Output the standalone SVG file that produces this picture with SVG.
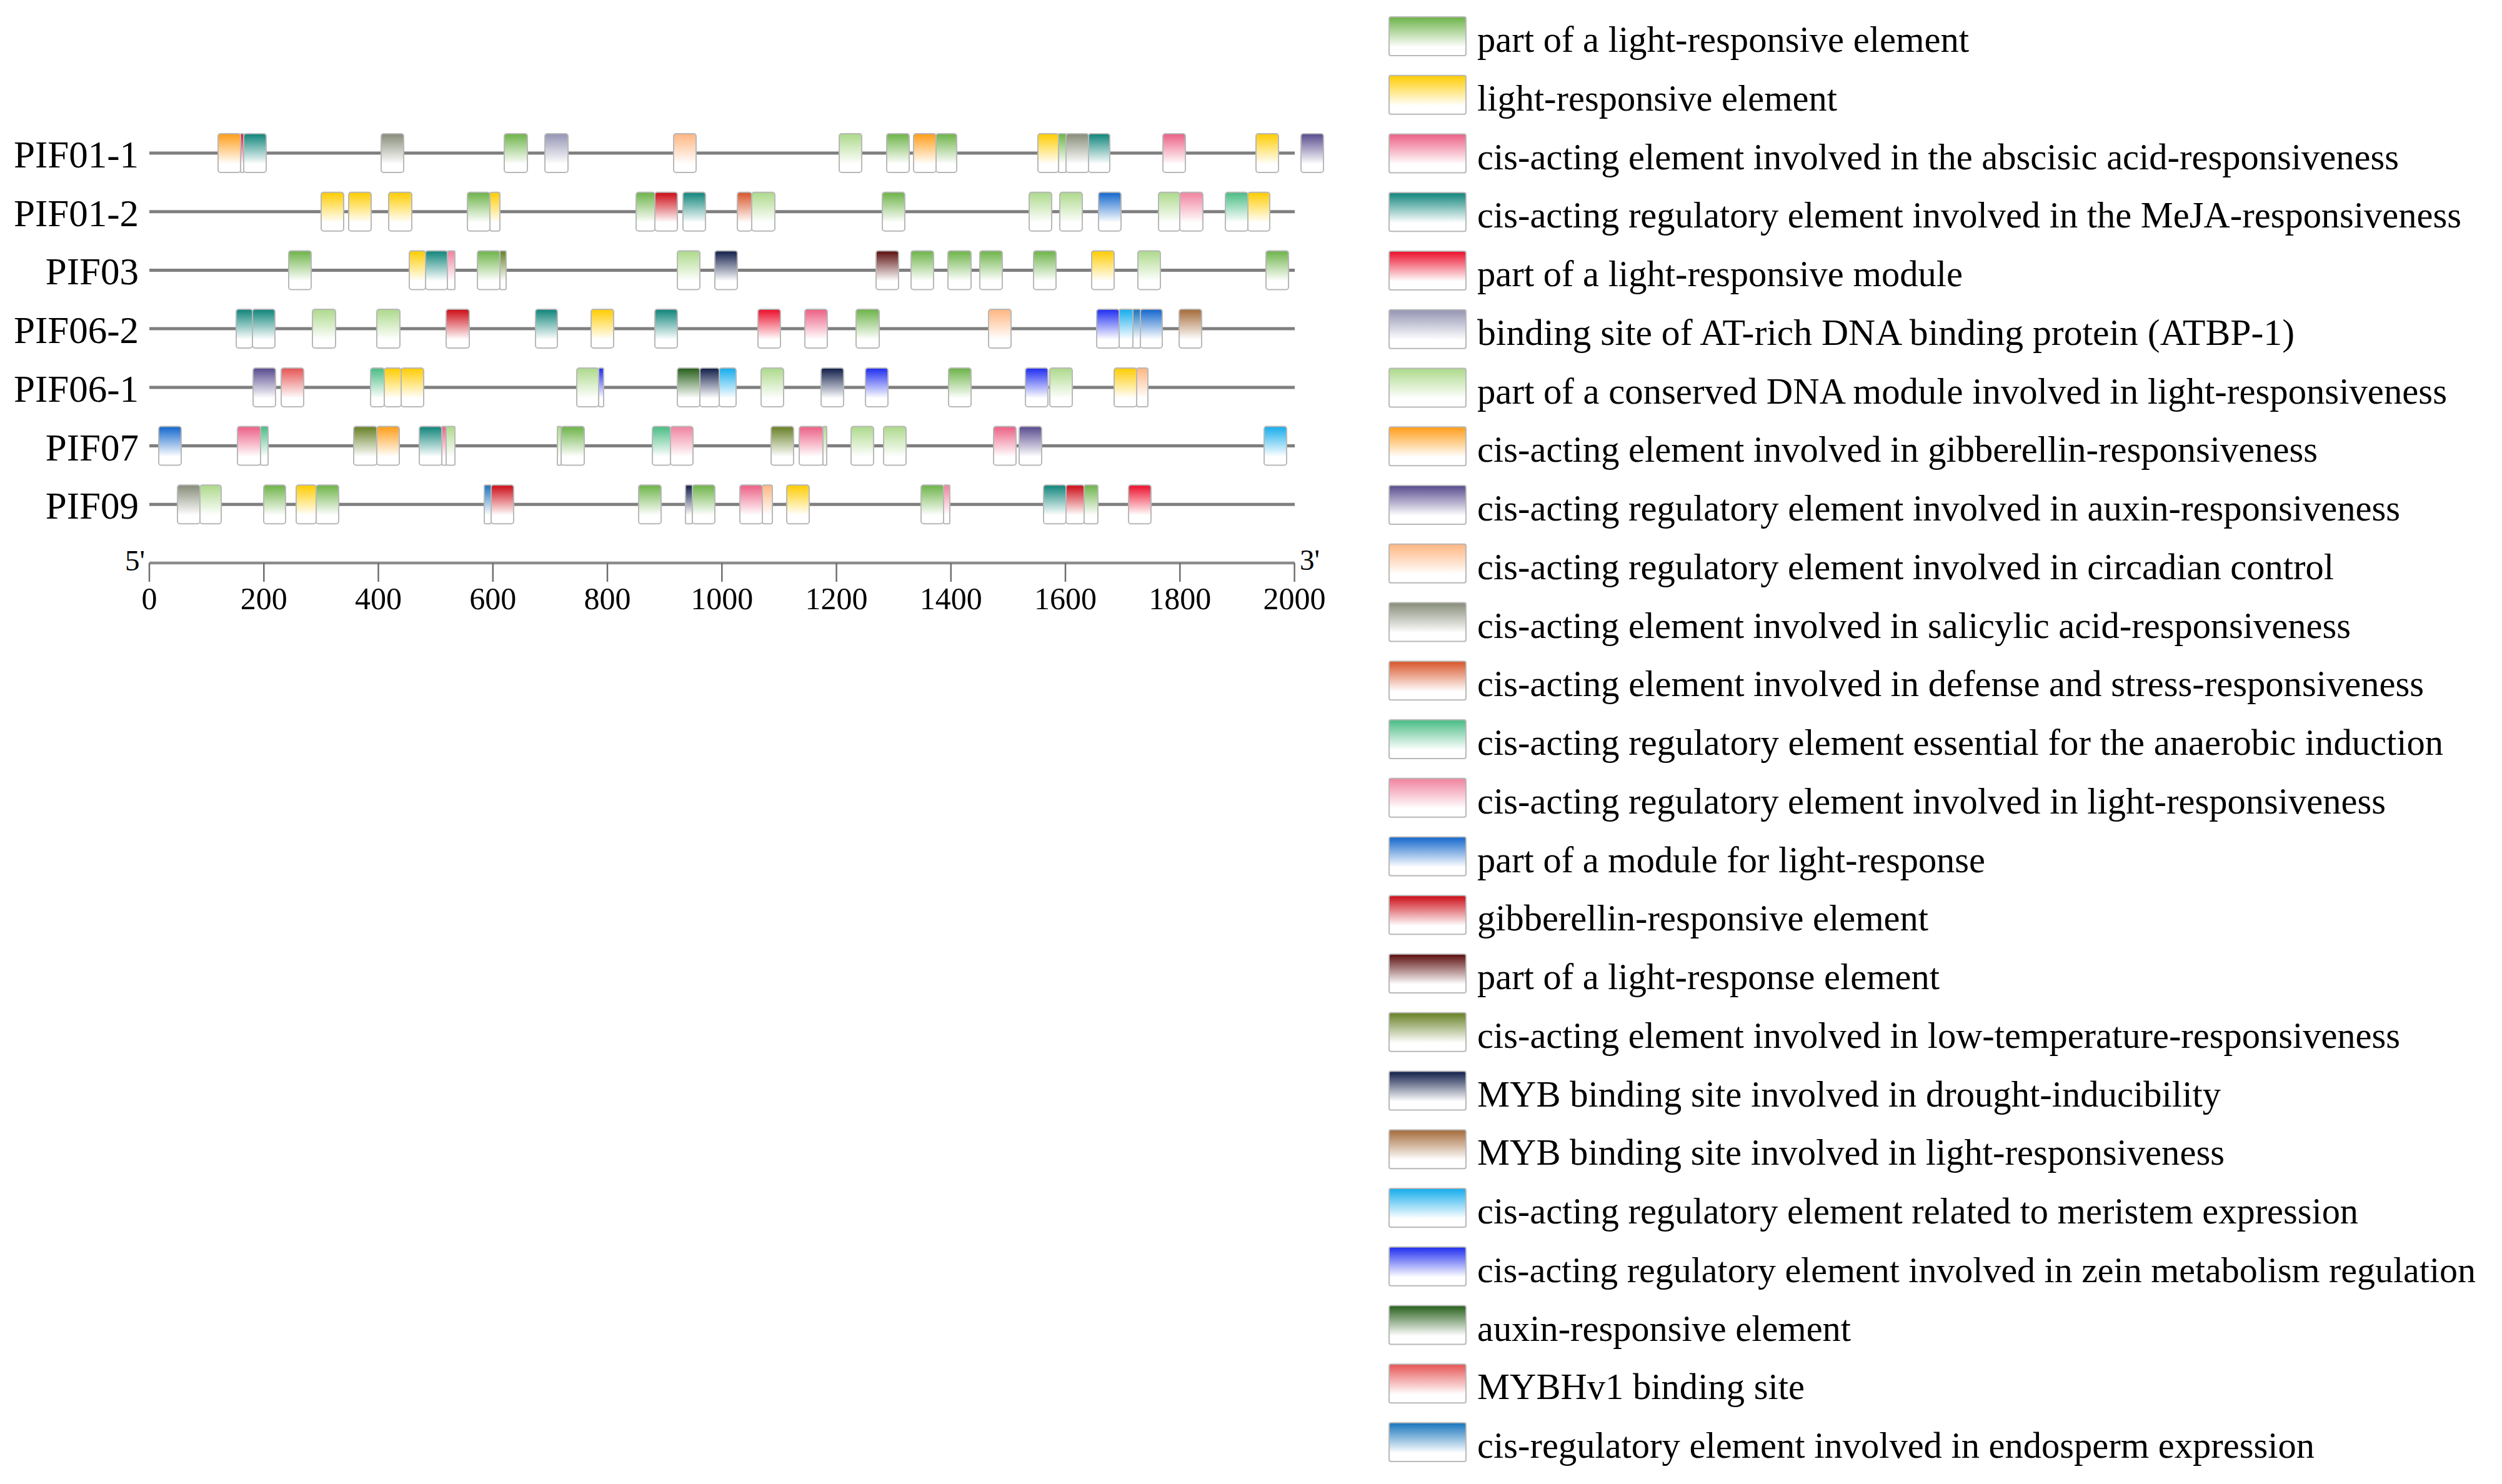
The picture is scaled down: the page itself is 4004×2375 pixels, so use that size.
<svg xmlns="http://www.w3.org/2000/svg" width="4004" height="2375" viewBox="0 0 4004 2375">
<style>
.lbl{font-family:"Liberation Serif","Times New Roman",serif;font-size:61px;fill:#000;text-anchor:end}
.tk{font-family:"Liberation Serif","Times New Roman",serif;font-size:50px;fill:#000;text-anchor:middle}
.end{font-family:"Liberation Serif","Times New Roman",serif;font-size:47px;fill:#000}
.lg{font-family:"Liberation Serif","Times New Roman",serif;font-size:60px;fill:#000}
.gene{stroke:#7f7f7f;stroke-width:5}
.b rect{stroke:#b8b8b8;stroke-width:2}
.tick{stroke:#6e6e6e;stroke-width:2.5}
</style>
<defs>
<linearGradient id="g1" x1="0" y1="0" x2="0" y2="1"><stop offset="0" stop-color="#6cb347"/><stop offset="0.78" stop-color="#fff"/></linearGradient>
<linearGradient id="g2" x1="0" y1="0" x2="0" y2="1"><stop offset="0" stop-color="#ffcc00"/><stop offset="0.78" stop-color="#fff"/></linearGradient>
<linearGradient id="g3" x1="0" y1="0" x2="0" y2="1"><stop offset="0" stop-color="#ec5f84"/><stop offset="0.78" stop-color="#fff"/></linearGradient>
<linearGradient id="g4" x1="0" y1="0" x2="0" y2="1"><stop offset="0" stop-color="#0e847a"/><stop offset="0.78" stop-color="#fff"/></linearGradient>
<linearGradient id="g5" x1="0" y1="0" x2="0" y2="1"><stop offset="0" stop-color="#ec0d2a"/><stop offset="0.78" stop-color="#fff"/></linearGradient>
<linearGradient id="g6" x1="0" y1="0" x2="0" y2="1"><stop offset="0" stop-color="#9494b4"/><stop offset="0.78" stop-color="#fff"/></linearGradient>
<linearGradient id="g7" x1="0" y1="0" x2="0" y2="1"><stop offset="0" stop-color="#acd98a"/><stop offset="0.78" stop-color="#fff"/></linearGradient>
<linearGradient id="g8" x1="0" y1="0" x2="0" y2="1"><stop offset="0" stop-color="#ff9d18"/><stop offset="0.78" stop-color="#fff"/></linearGradient>
<linearGradient id="g9" x1="0" y1="0" x2="0" y2="1"><stop offset="0" stop-color="#584a8e"/><stop offset="0.78" stop-color="#fff"/></linearGradient>
<linearGradient id="g10" x1="0" y1="0" x2="0" y2="1"><stop offset="0" stop-color="#ffb580"/><stop offset="0.78" stop-color="#fff"/></linearGradient>
<linearGradient id="g11" x1="0" y1="0" x2="0" y2="1"><stop offset="0" stop-color="#868c78"/><stop offset="0.78" stop-color="#fff"/></linearGradient>
<linearGradient id="g12" x1="0" y1="0" x2="0" y2="1"><stop offset="0" stop-color="#d85428"/><stop offset="0.78" stop-color="#fff"/></linearGradient>
<linearGradient id="g13" x1="0" y1="0" x2="0" y2="1"><stop offset="0" stop-color="#48bc84"/><stop offset="0.78" stop-color="#fff"/></linearGradient>
<linearGradient id="g14" x1="0" y1="0" x2="0" y2="1"><stop offset="0" stop-color="#f0829f"/><stop offset="0.78" stop-color="#fff"/></linearGradient>
<linearGradient id="g15" x1="0" y1="0" x2="0" y2="1"><stop offset="0" stop-color="#1266cc"/><stop offset="0.78" stop-color="#fff"/></linearGradient>
<linearGradient id="g16" x1="0" y1="0" x2="0" y2="1"><stop offset="0" stop-color="#cc0a14"/><stop offset="0.78" stop-color="#fff"/></linearGradient>
<linearGradient id="g17" x1="0" y1="0" x2="0" y2="1"><stop offset="0" stop-color="#5a0c0c"/><stop offset="0.78" stop-color="#fff"/></linearGradient>
<linearGradient id="g18" x1="0" y1="0" x2="0" y2="1"><stop offset="0" stop-color="#667f24"/><stop offset="0.78" stop-color="#fff"/></linearGradient>
<linearGradient id="g19" x1="0" y1="0" x2="0" y2="1"><stop offset="0" stop-color="#0e1c48"/><stop offset="0.78" stop-color="#fff"/></linearGradient>
<linearGradient id="g20" x1="0" y1="0" x2="0" y2="1"><stop offset="0" stop-color="#a46a38"/><stop offset="0.78" stop-color="#fff"/></linearGradient>
<linearGradient id="g21" x1="0" y1="0" x2="0" y2="1"><stop offset="0" stop-color="#14acec"/><stop offset="0.78" stop-color="#fff"/></linearGradient>
<linearGradient id="g22" x1="0" y1="0" x2="0" y2="1"><stop offset="0" stop-color="#1e2cf0"/><stop offset="0.78" stop-color="#fff"/></linearGradient>
<linearGradient id="g23" x1="0" y1="0" x2="0" y2="1"><stop offset="0" stop-color="#255e18"/><stop offset="0.78" stop-color="#fff"/></linearGradient>
<linearGradient id="g24" x1="0" y1="0" x2="0" y2="1"><stop offset="0" stop-color="#e65454"/><stop offset="0.78" stop-color="#fff"/></linearGradient>
<linearGradient id="g25" x1="0" y1="0" x2="0" y2="1"><stop offset="0" stop-color="#1774bc"/><stop offset="0.78" stop-color="#fff"/></linearGradient>
</defs>
<rect width="4004" height="2375" fill="#fff"/>

<g id="PIF01-1" transform="translate(0,245)">
<text class="lbl" x="222" y="23">PIF01-1</text>
<line class="gene" x1="239" y1="0" x2="2072" y2="0"/>
<g class="b">
<rect x="349" y="-31" width="36" height="62" rx="4" fill="url(#g8)"/>
<rect x="385" y="-31" width="5" height="62" rx="1" fill="url(#g5)"/>
<rect x="390" y="-31" width="36" height="62" rx="4" fill="url(#g4)"/>
<rect x="610" y="-31" width="36" height="62" rx="4" fill="url(#g11)"/>
<rect x="807" y="-31" width="37" height="62" rx="4" fill="url(#g1)"/>
<rect x="872" y="-31" width="37" height="62" rx="4" fill="url(#g6)"/>
<rect x="1078" y="-31" width="36" height="62" rx="4" fill="url(#g10)"/>
<rect x="1343" y="-31" width="36" height="62" rx="4" fill="url(#g7)"/>
<rect x="1419" y="-31" width="36" height="62" rx="4" fill="url(#g1)"/>
<rect x="1462" y="-31" width="36" height="62" rx="4" fill="url(#g8)"/>
<rect x="1498" y="-31" width="33" height="62" rx="4" fill="url(#g1)"/>
<rect x="1661" y="-31" width="33" height="62" rx="4" fill="url(#g2)"/>
<rect x="1694" y="-31" width="12" height="62" rx="2" fill="url(#g1)"/>
<rect x="1706" y="-31" width="36" height="62" rx="4" fill="url(#g11)"/>
<rect x="1742" y="-31" width="34" height="62" rx="4" fill="url(#g4)"/>
<rect x="1861" y="-31" width="36" height="62" rx="4" fill="url(#g3)"/>
<rect x="2010" y="-31" width="36" height="62" rx="4" fill="url(#g2)"/>
<rect x="2082" y="-31" width="36" height="62" rx="4" fill="url(#g9)"/>
</g>
</g>

<g id="PIF01-2" transform="translate(0,338.7)">
<text class="lbl" x="222" y="23">PIF01-2</text>
<line class="gene" x1="239" y1="0" x2="2072" y2="0"/>
<g class="b">
<rect x="514" y="-31" width="36" height="62" rx="4" fill="url(#g2)"/>
<rect x="558" y="-31" width="36" height="62" rx="4" fill="url(#g2)"/>
<rect x="622" y="-31" width="37" height="62" rx="4" fill="url(#g2)"/>
<rect x="748" y="-31" width="36" height="62" rx="4" fill="url(#g1)"/>
<rect x="784" y="-31" width="16" height="62" rx="3" fill="url(#g2)"/>
<rect x="1018" y="-31" width="30" height="62" rx="4" fill="url(#g1)"/>
<rect x="1048" y="-31" width="36" height="62" rx="4" fill="url(#g16)"/>
<rect x="1093" y="-31" width="36" height="62" rx="4" fill="url(#g4)"/>
<rect x="1180" y="-31" width="23" height="62" rx="4" fill="url(#g12)"/>
<rect x="1203" y="-31" width="37" height="62" rx="4" fill="url(#g7)"/>
<rect x="1412" y="-31" width="36" height="62" rx="4" fill="url(#g1)"/>
<rect x="1647" y="-31" width="36" height="62" rx="4" fill="url(#g7)"/>
<rect x="1696" y="-31" width="36" height="62" rx="4" fill="url(#g7)"/>
<rect x="1758" y="-31" width="36" height="62" rx="4" fill="url(#g15)"/>
<rect x="1854" y="-31" width="34" height="62" rx="4" fill="url(#g7)"/>
<rect x="1888" y="-31" width="37" height="62" rx="4" fill="url(#g14)"/>
<rect x="1961" y="-31" width="36" height="62" rx="4" fill="url(#g13)"/>
<rect x="1997" y="-31" width="35" height="62" rx="4" fill="url(#g2)"/>
</g>
</g>

<g id="PIF03" transform="translate(0,432.4)">
<text class="lbl" x="222" y="23">PIF03</text>
<line class="gene" x1="239" y1="0" x2="2072" y2="0"/>
<g class="b">
<rect x="462" y="-31" width="36" height="62" rx="4" fill="url(#g1)"/>
<rect x="655" y="-31" width="26" height="62" rx="4" fill="url(#g2)"/>
<rect x="681" y="-31" width="35" height="62" rx="4" fill="url(#g4)"/>
<rect x="716" y="-31" width="12" height="62" rx="2" fill="url(#g14)"/>
<rect x="764" y="-31" width="36" height="62" rx="4" fill="url(#g1)"/>
<rect x="800" y="-31" width="10" height="62" rx="2" fill="url(#g18)"/>
<rect x="1084" y="-31" width="36" height="62" rx="4" fill="url(#g7)"/>
<rect x="1144" y="-31" width="36" height="62" rx="4" fill="url(#g19)"/>
<rect x="1402" y="-31" width="36" height="62" rx="4" fill="url(#g17)"/>
<rect x="1458" y="-31" width="36" height="62" rx="4" fill="url(#g1)"/>
<rect x="1517" y="-31" width="37" height="62" rx="4" fill="url(#g1)"/>
<rect x="1568" y="-31" width="36" height="62" rx="4" fill="url(#g1)"/>
<rect x="1654" y="-31" width="36" height="62" rx="4" fill="url(#g1)"/>
<rect x="1747" y="-31" width="36" height="62" rx="4" fill="url(#g2)"/>
<rect x="1821" y="-31" width="36" height="62" rx="4" fill="url(#g7)"/>
<rect x="2026" y="-31" width="36" height="62" rx="4" fill="url(#g1)"/>
</g>
</g>

<g id="PIF06-2" transform="translate(0,526)">
<text class="lbl" x="222" y="23">PIF06-2</text>
<line class="gene" x1="239" y1="0" x2="2072" y2="0"/>
<g class="b">
<rect x="378" y="-31" width="26" height="62" rx="4" fill="url(#g4)"/>
<rect x="404" y="-31" width="36" height="62" rx="4" fill="url(#g4)"/>
<rect x="500" y="-31" width="37" height="62" rx="4" fill="url(#g7)"/>
<rect x="603" y="-31" width="37" height="62" rx="4" fill="url(#g7)"/>
<rect x="714" y="-31" width="37" height="62" rx="4" fill="url(#g16)"/>
<rect x="857" y="-31" width="35" height="62" rx="4" fill="url(#g4)"/>
<rect x="946" y="-31" width="36" height="62" rx="4" fill="url(#g2)"/>
<rect x="1048" y="-31" width="36" height="62" rx="4" fill="url(#g4)"/>
<rect x="1213" y="-31" width="36" height="62" rx="4" fill="url(#g5)"/>
<rect x="1288" y="-31" width="36" height="62" rx="4" fill="url(#g3)"/>
<rect x="1370" y="-31" width="37" height="62" rx="4" fill="url(#g1)"/>
<rect x="1582" y="-31" width="36" height="62" rx="4" fill="url(#g10)"/>
<rect x="1755" y="-31" width="36" height="62" rx="4" fill="url(#g22)"/>
<rect x="1791" y="-31" width="22" height="62" rx="3" fill="url(#g21)"/>
<rect x="1813" y="-31" width="12" height="62" rx="2" fill="url(#g25)"/>
<rect x="1825" y="-31" width="35" height="62" rx="4" fill="url(#g15)"/>
<rect x="1887" y="-31" width="36" height="62" rx="4" fill="url(#g20)"/>
</g>
</g>

<g id="PIF06-1" transform="translate(0,620)">
<text class="lbl" x="222" y="23">PIF06-1</text>
<line class="gene" x1="239" y1="0" x2="2072" y2="0"/>
<g class="b">
<rect x="405" y="-31" width="36" height="62" rx="4" fill="url(#g9)"/>
<rect x="450" y="-31" width="36" height="62" rx="4" fill="url(#g24)"/>
<rect x="593" y="-31" width="22" height="62" rx="4" fill="url(#g13)"/>
<rect x="615" y="-31" width="27" height="62" rx="4" fill="url(#g2)"/>
<rect x="642" y="-31" width="36" height="62" rx="4" fill="url(#g2)"/>
<rect x="923" y="-31" width="35" height="62" rx="4" fill="url(#g7)"/>
<rect x="958" y="-31" width="8" height="62" rx="2" fill="url(#g22)"/>
<rect x="1084" y="-31" width="36" height="62" rx="4" fill="url(#g23)"/>
<rect x="1120" y="-31" width="31" height="62" rx="4" fill="url(#g19)"/>
<rect x="1151" y="-31" width="27" height="62" rx="4" fill="url(#g21)"/>
<rect x="1218" y="-31" width="36" height="62" rx="4" fill="url(#g7)"/>
<rect x="1314" y="-31" width="36" height="62" rx="4" fill="url(#g19)"/>
<rect x="1385" y="-31" width="36" height="62" rx="4" fill="url(#g22)"/>
<rect x="1518" y="-31" width="36" height="62" rx="4" fill="url(#g1)"/>
<rect x="1641" y="-31" width="36" height="62" rx="4" fill="url(#g22)"/>
<rect x="1680" y="-31" width="36" height="62" rx="4" fill="url(#g7)"/>
<rect x="1783" y="-31" width="36" height="62" rx="4" fill="url(#g2)"/>
<rect x="1819" y="-31" width="18" height="62" rx="3" fill="url(#g10)"/>
</g>
</g>

<g id="PIF07" transform="translate(0,713.5)">
<text class="lbl" x="222" y="23">PIF07</text>
<line class="gene" x1="239" y1="0" x2="2072" y2="0"/>
<g class="b">
<rect x="254" y="-31" width="36" height="62" rx="4" fill="url(#g15)"/>
<rect x="380" y="-31" width="37" height="62" rx="4" fill="url(#g3)"/>
<rect x="417" y="-31" width="12" height="62" rx="2" fill="url(#g13)"/>
<rect x="566" y="-31" width="37" height="62" rx="4" fill="url(#g18)"/>
<rect x="603" y="-31" width="36" height="62" rx="4" fill="url(#g8)"/>
<rect x="671" y="-31" width="36" height="62" rx="4" fill="url(#g4)"/>
<rect x="707" y="-31" width="7" height="62" rx="1" fill="url(#g3)"/>
<rect x="714" y="-31" width="14" height="62" rx="2" fill="url(#g7)"/>
<rect x="892" y="-31" width="6" height="62" rx="1" fill="url(#g7)"/>
<rect x="898" y="-31" width="37" height="62" rx="4" fill="url(#g1)"/>
<rect x="1044" y="-31" width="29" height="62" rx="4" fill="url(#g13)"/>
<rect x="1073" y="-31" width="36" height="62" rx="4" fill="url(#g14)"/>
<rect x="1234" y="-31" width="36" height="62" rx="4" fill="url(#g18)"/>
<rect x="1279" y="-31" width="38" height="62" rx="4" fill="url(#g3)"/>
<rect x="1317" y="-31" width="6" height="62" rx="1" fill="url(#g7)"/>
<rect x="1362" y="-31" width="36" height="62" rx="4" fill="url(#g7)"/>
<rect x="1414" y="-31" width="36" height="62" rx="4" fill="url(#g7)"/>
<rect x="1590" y="-31" width="36" height="62" rx="4" fill="url(#g3)"/>
<rect x="1631" y="-31" width="36" height="62" rx="4" fill="url(#g9)"/>
<rect x="2023" y="-31" width="36" height="62" rx="4" fill="url(#g21)"/>
</g>
</g>

<g id="PIF09" transform="translate(0,807.2)">
<text class="lbl" x="222" y="23">PIF09</text>
<line class="gene" x1="239" y1="0" x2="2072" y2="0"/>
<g class="b">
<rect x="284" y="-31" width="36" height="62" rx="4" fill="url(#g11)"/>
<rect x="320" y="-31" width="34" height="62" rx="4" fill="url(#g7)"/>
<rect x="422" y="-31" width="35" height="62" rx="4" fill="url(#g1)"/>
<rect x="474" y="-31" width="32" height="62" rx="4" fill="url(#g2)"/>
<rect x="506" y="-31" width="36" height="62" rx="4" fill="url(#g1)"/>
<rect x="775" y="-31" width="11" height="62" rx="2" fill="url(#g25)"/>
<rect x="786" y="-31" width="36" height="62" rx="4" fill="url(#g16)"/>
<rect x="1022" y="-31" width="36" height="62" rx="4" fill="url(#g1)"/>
<rect x="1097" y="-31" width="11" height="62" rx="2" fill="url(#g19)"/>
<rect x="1108" y="-31" width="36" height="62" rx="4" fill="url(#g1)"/>
<rect x="1184" y="-31" width="36" height="62" rx="4" fill="url(#g3)"/>
<rect x="1220" y="-31" width="16" height="62" rx="3" fill="url(#g10)"/>
<rect x="1259" y="-31" width="36" height="62" rx="4" fill="url(#g2)"/>
<rect x="1474" y="-31" width="36" height="62" rx="4" fill="url(#g1)"/>
<rect x="1510" y="-31" width="10" height="62" rx="2" fill="url(#g14)"/>
<rect x="1670" y="-31" width="36" height="62" rx="4" fill="url(#g4)"/>
<rect x="1706" y="-31" width="29" height="62" rx="4" fill="url(#g16)"/>
<rect x="1735" y="-31" width="22" height="62" rx="3" fill="url(#g1)"/>
<rect x="1806" y="-31" width="36" height="62" rx="4" fill="url(#g5)"/>
</g>
</g>

<g id="axis">
<line x1="239" y1="901" x2="2072" y2="901" stroke="#8c8c8c" stroke-width="4.5"/>
<g class="tick">
<line x1="239" y1="901" x2="239" y2="931"/>
<line x1="422.3" y1="901" x2="422.3" y2="931"/>
<line x1="605.5" y1="901" x2="605.5" y2="931"/>
<line x1="788.8" y1="901" x2="788.8" y2="931"/>
<line x1="972" y1="901" x2="972" y2="931"/>
<line x1="1155.3" y1="901" x2="1155.3" y2="931"/>
<line x1="1338.6" y1="901" x2="1338.6" y2="931"/>
<line x1="1521.8" y1="901" x2="1521.8" y2="931"/>
<line x1="1705" y1="901" x2="1705" y2="931"/>
<line x1="1888.3" y1="901" x2="1888.3" y2="931"/>
<line x1="2071.6" y1="901" x2="2071.6" y2="931"/>
</g>
<text class="tk" x="239" y="975">0</text>
<text class="tk" x="422.3" y="975">200</text>
<text class="tk" x="605.5" y="975">400</text>
<text class="tk" x="788.8" y="975">600</text>
<text class="tk" x="972" y="975">800</text>
<text class="tk" x="1155.3" y="975">1000</text>
<text class="tk" x="1338.6" y="975">1200</text>
<text class="tk" x="1521.8" y="975">1400</text>
<text class="tk" x="1705" y="975">1600</text>
<text class="tk" x="1888.3" y="975">1800</text>
<text class="tk" x="2071.6" y="975">2000</text>
<text class="end" x="232" y="913" text-anchor="end">5'</text>
<text class="end" x="2080" y="912">3'</text>
</g>

<g id="legend">
<g class="b">
<rect x="2223" y="27" width="123" height="62" rx="3" fill="url(#g1)"/>
<rect x="2223" y="120.75" width="123" height="62" rx="3" fill="url(#g2)"/>
<rect x="2223" y="214.5" width="123" height="62" rx="3" fill="url(#g3)"/>
<rect x="2223" y="308.25" width="123" height="62" rx="3" fill="url(#g4)"/>
<rect x="2223" y="402" width="123" height="62" rx="3" fill="url(#g5)"/>
<rect x="2223" y="495.75" width="123" height="62" rx="3" fill="url(#g6)"/>
<rect x="2223" y="589.5" width="123" height="62" rx="3" fill="url(#g7)"/>
<rect x="2223" y="683.25" width="123" height="62" rx="3" fill="url(#g8)"/>
<rect x="2223" y="777" width="123" height="62" rx="3" fill="url(#g9)"/>
<rect x="2223" y="870.75" width="123" height="62" rx="3" fill="url(#g10)"/>
<rect x="2223" y="964.5" width="123" height="62" rx="3" fill="url(#g11)"/>
<rect x="2223" y="1058.25" width="123" height="62" rx="3" fill="url(#g12)"/>
<rect x="2223" y="1152" width="123" height="62" rx="3" fill="url(#g13)"/>
<rect x="2223" y="1245.75" width="123" height="62" rx="3" fill="url(#g14)"/>
<rect x="2223" y="1339.5" width="123" height="62" rx="3" fill="url(#g15)"/>
<rect x="2223" y="1433.25" width="123" height="62" rx="3" fill="url(#g16)"/>
<rect x="2223" y="1527" width="123" height="62" rx="3" fill="url(#g17)"/>
<rect x="2223" y="1620.75" width="123" height="62" rx="3" fill="url(#g18)"/>
<rect x="2223" y="1714.5" width="123" height="62" rx="3" fill="url(#g19)"/>
<rect x="2223" y="1808.25" width="123" height="62" rx="3" fill="url(#g20)"/>
<rect x="2223" y="1902" width="123" height="62" rx="3" fill="url(#g21)"/>
<rect x="2223" y="1995.75" width="123" height="62" rx="3" fill="url(#g22)"/>
<rect x="2223" y="2089.5" width="123" height="62" rx="3" fill="url(#g23)"/>
<rect x="2223" y="2183.25" width="123" height="62" rx="3" fill="url(#g24)"/>
<rect x="2223" y="2277" width="123" height="62" rx="3" fill="url(#g25)"/>
</g>
<text class="lg" x="2364" y="83" textLength="787" lengthAdjust="spacingAndGlyphs">part of a light-responsive element</text>
<text class="lg" x="2364" y="176.75" textLength="576" lengthAdjust="spacingAndGlyphs">light-responsive element</text>
<text class="lg" x="2364" y="270.5" textLength="1475" lengthAdjust="spacingAndGlyphs">cis-acting element involved in the abscisic acid-responsiveness</text>
<text class="lg" x="2364" y="364.25" textLength="1575" lengthAdjust="spacingAndGlyphs">cis-acting regulatory element involved in the MeJA-responsiveness</text>
<text class="lg" x="2364" y="458" textLength="777" lengthAdjust="spacingAndGlyphs">part of a light-responsive module</text>
<text class="lg" x="2364" y="551.75" textLength="1308" lengthAdjust="spacingAndGlyphs">binding site of AT-rich DNA binding protein (ATBP-1)</text>
<text class="lg" x="2364" y="645.5" textLength="1552" lengthAdjust="spacingAndGlyphs">part of a conserved DNA module involved in light-responsiveness</text>
<text class="lg" x="2364" y="739.25" textLength="1345" lengthAdjust="spacingAndGlyphs">cis-acting element involved in gibberellin-responsiveness</text>
<text class="lg" x="2364" y="833" textLength="1477" lengthAdjust="spacingAndGlyphs">cis-acting regulatory element involved in auxin-responsiveness</text>
<text class="lg" x="2364" y="926.75" textLength="1371" lengthAdjust="spacingAndGlyphs">cis-acting regulatory element involved in circadian control</text>
<text class="lg" x="2364" y="1020.5" textLength="1398" lengthAdjust="spacingAndGlyphs">cis-acting element involved in salicylic acid-responsiveness</text>
<text class="lg" x="2364" y="1114.25" textLength="1515" lengthAdjust="spacingAndGlyphs">cis-acting element involved in defense and stress-responsiveness</text>
<text class="lg" x="2364" y="1208" textLength="1546" lengthAdjust="spacingAndGlyphs">cis-acting regulatory element essential for the anaerobic induction</text>
<text class="lg" x="2364" y="1301.75" textLength="1454" lengthAdjust="spacingAndGlyphs">cis-acting regulatory element involved in light-responsiveness</text>
<text class="lg" x="2364" y="1395.5" textLength="813" lengthAdjust="spacingAndGlyphs">part of a module for light-response</text>
<text class="lg" x="2364" y="1489.25" textLength="722" lengthAdjust="spacingAndGlyphs">gibberellin-responsive element</text>
<text class="lg" x="2364" y="1583" textLength="740" lengthAdjust="spacingAndGlyphs">part of a light-response element</text>
<text class="lg" x="2364" y="1676.75" textLength="1477" lengthAdjust="spacingAndGlyphs">cis-acting element involved in low-temperature-responsiveness</text>
<text class="lg" x="2364" y="1770.5" textLength="1190" lengthAdjust="spacingAndGlyphs">MYB binding site involved in drought-inducibility</text>
<text class="lg" x="2364" y="1864.25" textLength="1196" lengthAdjust="spacingAndGlyphs">MYB binding site involved in light-responsiveness</text>
<text class="lg" x="2364" y="1958" textLength="1410" lengthAdjust="spacingAndGlyphs">cis-acting regulatory element related to meristem expression</text>
<text class="lg" x="2364" y="2051.75" style="font-size:57px" textLength="1598" lengthAdjust="spacingAndGlyphs">cis-acting regulatory element involved in zein metabolism regulation</text>
<text class="lg" x="2364" y="2145.5" textLength="598" lengthAdjust="spacingAndGlyphs">auxin-responsive element</text>
<text class="lg" x="2364" y="2239.25" textLength="524" lengthAdjust="spacingAndGlyphs">MYBHv1 binding site</text>
<text class="lg" x="2364" y="2333" textLength="1340" lengthAdjust="spacingAndGlyphs">cis-regulatory element involved in endosperm expression</text>
</g>
</svg>
